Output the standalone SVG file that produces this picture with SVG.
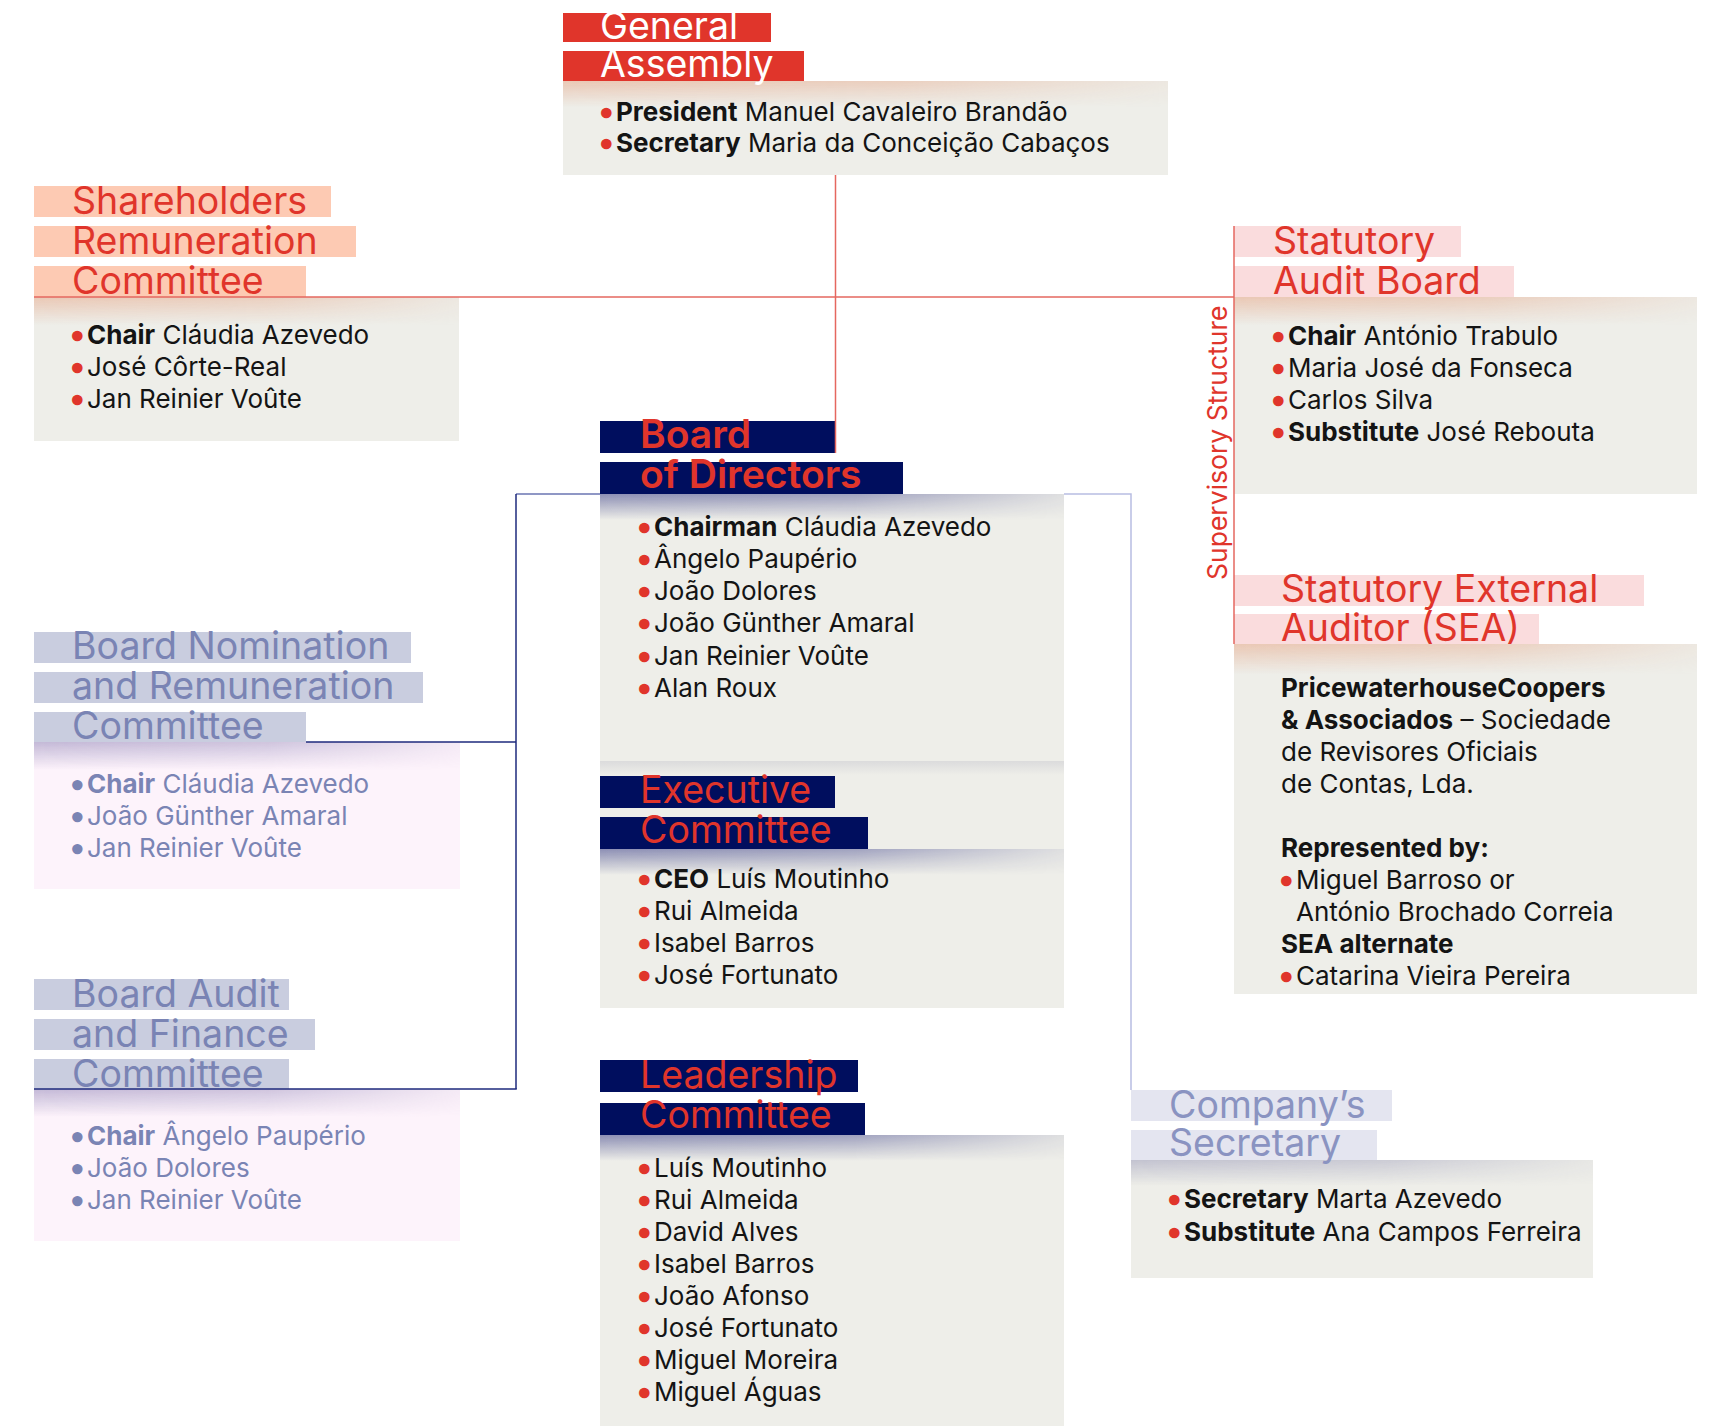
<svg xmlns="http://www.w3.org/2000/svg" width="1711" height="1426" viewBox="0 0 1711 1426">
<defs>
  <linearGradient id="gPeach" x1="0" y1="0" x2="0" y2="1">
    <stop offset="0" stop-color="#E7AE92" stop-opacity="0.6"/>
    <stop offset="1" stop-color="#E7AE92" stop-opacity="0"/>
  </linearGradient>
  <linearGradient id="gNavy" x1="0" y1="0" x2="0" y2="1">
    <stop offset="0" stop-color="#2B3080" stop-opacity="0.5"/>
    <stop offset="1" stop-color="#2B3080" stop-opacity="0"/>
  </linearGradient>
  <linearGradient id="gPurple" x1="0" y1="0" x2="0" y2="1">
    <stop offset="0" stop-color="#8A7FB3" stop-opacity="0.5"/>
    <stop offset="1" stop-color="#8A7FB3" stop-opacity="0"/>
  </linearGradient>
  <linearGradient id="gGreyL" x1="0" y1="0" x2="0" y2="1">
    <stop offset="0" stop-color="#8E8FB2" stop-opacity="0.45"/>
    <stop offset="1" stop-color="#8E8FB2" stop-opacity="0"/>
  </linearGradient>
  <linearGradient id="gSoft" x1="0" y1="0" x2="0" y2="1">
    <stop offset="0" stop-color="#B8B8C4" stop-opacity="0.35"/>
    <stop offset="1" stop-color="#B8B8C4" stop-opacity="0"/>
  </linearGradient>
  <linearGradient id="hFade" x1="0" y1="0" x2="1" y2="0">
    <stop offset="0" stop-color="#fff"/>
    <stop offset="0.55" stop-color="#fff" stop-opacity="0.8"/>
    <stop offset="1" stop-color="#fff" stop-opacity="0.15"/>
  </linearGradient>
  <mask id="mFade" maskContentUnits="objectBoundingBox">
    <rect width="1" height="1" fill="url(#hFade)"/>
  </mask>
</defs>
<style>
  .box{fill:#EEEEE9}
  .pbox{fill:#FDF3FB}
  .red{fill:#E0352B}
  .salmon{fill:#FDCAB3}
  .pink{fill:#FADCDD}
  .navy{fill:#000E5E}
  .lav{fill:#C9CDDF}
  .lav2{fill:#E4E5F0}
  .t{font-family:Inter,"Liberation Sans",sans-serif;font-size:37.5px}
  .tw{fill:#FFFFFF}
  .tr{fill:#E0352B}
  .tl{fill:#7A84B4}
  .tl2{fill:#8A93C1}
  .tb{font-weight:600;font-size:39px}
  .b{font-family:Inter,"Liberation Sans",sans-serif;font-size:26px;fill:#141414}
  .bl{font-family:Inter,"Liberation Sans",sans-serif;font-size:26px;fill:#7A84B4}
  .k{font-weight:700}
  .d{fill:#E0352B;stroke:#E0352B;stroke-width:2.4px}
  .dl{fill:#7A84B4;stroke:#7A84B4;stroke-width:2.2px}
  .sup{font-family:Inter,"Liberation Sans",sans-serif;font-size:26.5px;fill:#E0352B}
  .cr{stroke:#E5675F;stroke-width:1.5;fill:none}
  .cn{stroke:#1E2A7C;stroke-width:1.5;fill:none}
  .cn2{stroke:#6A74B2;stroke-width:1.5;fill:none}
  .cl{stroke:#B8BDE2;stroke-width:1.5;fill:none}
</style>

<g id="general-assembly">
  <rect class="box" x="563" y="81" width="605" height="94"/>
  <rect x="563" y="81" width="605" height="26" fill="url(#gPeach)" mask="url(#mFade)"/>
  <rect class="red" x="563" y="13" width="208" height="29"/>
  <rect class="red" x="563" y="51" width="241" height="30"/>
  <text class="t tw" x="600" y="39">General</text>
  <text class="t tw" x="600" y="77">Assembly</text>
  <text class="b" x="599" y="121"><tspan class="d">•</tspan><tspan x="616" class="k">President</tspan> Manuel Cavaleiro Brandão</text>
  <text class="b" x="599" y="152"><tspan class="d">•</tspan><tspan x="616" class="k">Secretary</tspan> Maria da Conceição Cabaços</text>
</g>

<g id="shareholders-remuneration-committee">
  <rect class="box" x="34" y="297" width="425" height="144"/>
  <rect x="34" y="297" width="425" height="28" fill="url(#gPeach)" mask="url(#mFade)"/>
  <rect class="salmon" x="34" y="186" width="297" height="31"/>
  <rect class="salmon" x="34" y="226" width="322" height="31"/>
  <rect class="salmon" x="34" y="266" width="272" height="31"/>
  <text class="t tr" x="72" y="214">Shareholders</text>
  <text class="t tr" x="72" y="254">Remuneration</text>
  <text class="t tr" x="72" y="294">Committee</text>
  <text class="b" x="70" y="344"><tspan class="d">•</tspan><tspan x="87" class="k">Chair</tspan> Cláudia Azevedo</text>
  <text class="b" x="70" y="376"><tspan class="d">•</tspan><tspan x="87">José Côrte-Real</tspan></text>
  <text class="b" x="70" y="408"><tspan class="d">•</tspan><tspan x="87">Jan Reinier Voûte</tspan></text>
</g>

<g id="statutory-audit-board">
  <rect class="box" x="1234" y="297" width="463" height="197"/>
  <rect x="1234" y="297" width="463" height="28" fill="url(#gPeach)" mask="url(#mFade)"/>
  <rect class="pink" x="1234" y="226" width="227" height="31"/>
  <rect class="pink" x="1234" y="266" width="280" height="31"/>
  <text class="t tr" x="1273" y="254">Statutory</text>
  <text class="t tr" x="1273" y="294">Audit Board</text>
  <text class="b" x="1271" y="345"><tspan class="d">•</tspan><tspan x="1288" class="k">Chair</tspan> António Trabulo</text>
  <text class="b" x="1271" y="377"><tspan class="d">•</tspan><tspan x="1288">Maria José da Fonseca</tspan></text>
  <text class="b" x="1271" y="409"><tspan class="d">•</tspan><tspan x="1288">Carlos Silva</tspan></text>
  <text class="b" x="1271" y="441"><tspan class="d">•</tspan><tspan x="1288" class="k">Substitute</tspan> José Rebouta</text>
</g>

<g id="supervisory-structure-label">
  <text class="sup" transform="translate(1227,580) rotate(-90)">Supervisory Structure</text>
</g>

<g id="statutory-external-auditor">
  <rect class="box" x="1234" y="644" width="463" height="350"/>
  <rect x="1234" y="644" width="463" height="30" fill="url(#gPeach)" mask="url(#mFade)"/>
  <rect class="pink" x="1234" y="575" width="410" height="31"/>
  <rect class="pink" x="1234" y="614" width="305" height="30"/>
  <text class="t tr" x="1281" y="602">Statutory External</text>
  <text class="t tr" x="1281" y="641">Auditor (SEA)</text>
  <text class="b k" x="1281" y="697">PricewaterhouseCoopers</text>
  <text class="b" x="1281" y="729"><tspan class="k">&amp; Associados</tspan> – Sociedade</text>
  <text class="b" x="1281" y="761">de Revisores Oficiais</text>
  <text class="b" x="1281" y="793">de Contas, Lda.</text>
  <text class="b k" x="1281" y="857">Represented by:</text>
  <text class="b" x="1279" y="889"><tspan class="d">•</tspan><tspan x="1296">Miguel Barroso or</tspan></text>
  <text class="b" x="1296" y="921">António Brochado Correia</text>
  <text class="b k" x="1281" y="953">SEA alternate</text>
  <text class="b" x="1279" y="985"><tspan class="d">•</tspan><tspan x="1296">Catarina Vieira Pereira</tspan></text>
</g>

<g id="board-of-directors">
  <rect class="box" x="600" y="494" width="464" height="267"/>
  <rect x="600" y="494" width="464" height="26" fill="url(#gNavy)" mask="url(#mFade)"/>
  <rect class="navy" x="600" y="421" width="235" height="32"/>
  <rect class="navy" x="600" y="462" width="303" height="32"/>
  <text class="t tr tb" x="640" y="448">Board</text>
  <text class="t tr tb" x="640" y="488">of Directors</text>
  <text class="b" x="637" y="536"><tspan class="d">•</tspan><tspan x="654" class="k">Chairman</tspan> Cláudia Azevedo</text>
  <text class="b" x="637" y="568"><tspan class="d">•</tspan><tspan x="654">Ângelo Paupério</tspan></text>
  <text class="b" x="637" y="600"><tspan class="d">•</tspan><tspan x="654">João Dolores</tspan></text>
  <text class="b" x="637" y="632"><tspan class="d">•</tspan><tspan x="654">João Günther Amaral</tspan></text>
  <text class="b" x="637" y="665"><tspan class="d">•</tspan><tspan x="654">Jan Reinier Voûte</tspan></text>
  <text class="b" x="637" y="697"><tspan class="d">•</tspan><tspan x="654">Alan Roux</tspan></text>
</g>

<g id="executive-committee">
  <rect class="box" x="600" y="761" width="464" height="247"/>
  <rect x="600" y="761" width="464" height="14" fill="url(#gSoft)"/>
  <rect x="600" y="849" width="464" height="26" fill="url(#gNavy)" mask="url(#mFade)"/>
  <rect class="navy" x="600" y="776" width="235" height="32"/>
  <rect class="navy" x="600" y="817" width="268" height="32"/>
  <text class="t tr" x="640" y="803">Executive</text>
  <text class="t tr" x="640" y="843">Committee</text>
  <text class="b" x="637" y="888"><tspan class="d">•</tspan><tspan x="654" class="k">CEO</tspan> Luís Moutinho</text>
  <text class="b" x="637" y="920"><tspan class="d">•</tspan><tspan x="654">Rui Almeida</tspan></text>
  <text class="b" x="637" y="952"><tspan class="d">•</tspan><tspan x="654">Isabel Barros</tspan></text>
  <text class="b" x="637" y="984"><tspan class="d">•</tspan><tspan x="654">José Fortunato</tspan></text>
</g>

<g id="leadership-committee">
  <rect class="box" x="600" y="1135" width="464" height="291"/>
  <rect x="600" y="1135" width="464" height="26" fill="url(#gNavy)" mask="url(#mFade)"/>
  <rect class="navy" x="600" y="1060" width="258" height="32"/>
  <rect class="navy" x="600" y="1103" width="265" height="32"/>
  <text class="t tr" x="640" y="1088">Leadership</text>
  <text class="t tr" x="640" y="1128">Committee</text>
  <text class="b" x="637" y="1177"><tspan class="d">•</tspan><tspan x="654">Luís Moutinho</tspan></text>
  <text class="b" x="637" y="1209"><tspan class="d">•</tspan><tspan x="654">Rui Almeida</tspan></text>
  <text class="b" x="637" y="1241"><tspan class="d">•</tspan><tspan x="654">David Alves</tspan></text>
  <text class="b" x="637" y="1273"><tspan class="d">•</tspan><tspan x="654">Isabel Barros</tspan></text>
  <text class="b" x="637" y="1305"><tspan class="d">•</tspan><tspan x="654">João Afonso</tspan></text>
  <text class="b" x="637" y="1337"><tspan class="d">•</tspan><tspan x="654">José Fortunato</tspan></text>
  <text class="b" x="637" y="1369"><tspan class="d">•</tspan><tspan x="654">Miguel Moreira</tspan></text>
  <text class="b" x="637" y="1401"><tspan class="d">•</tspan><tspan x="654">Miguel Águas</tspan></text>
</g>

<g id="board-nomination-remuneration-committee">
  <rect class="pbox" x="34" y="742" width="426" height="147"/>
  <rect x="34" y="742" width="426" height="28" fill="url(#gPurple)" mask="url(#mFade)"/>
  <rect class="lav" x="34" y="632" width="377" height="31"/>
  <rect class="lav" x="34" y="672" width="389" height="31"/>
  <rect class="lav" x="34" y="712" width="272" height="30"/>
  <text class="t tl" x="72" y="659">Board Nomination</text>
  <text class="t tl" x="72" y="699">and Remuneration</text>
  <text class="t tl" x="72" y="739">Committee</text>
  <text class="bl" x="70" y="793"><tspan class="dl">•</tspan><tspan x="87" class="k">Chair</tspan> Cláudia Azevedo</text>
  <text class="bl" x="70" y="825"><tspan class="dl">•</tspan><tspan x="87">João Günther Amaral</tspan></text>
  <text class="bl" x="70" y="857"><tspan class="dl">•</tspan><tspan x="87">Jan Reinier Voûte</tspan></text>
</g>

<g id="board-audit-finance-committee">
  <rect class="pbox" x="34" y="1089" width="426" height="152"/>
  <rect x="34" y="1089" width="426" height="28" fill="url(#gPurple)" mask="url(#mFade)"/>
  <rect class="lav" x="34" y="979" width="255" height="31"/>
  <rect class="lav" x="34" y="1019" width="281" height="31"/>
  <rect class="lav" x="34" y="1059" width="255" height="30"/>
  <text class="t tl" x="72" y="1007">Board Audit</text>
  <text class="t tl" x="72" y="1047">and Finance</text>
  <text class="t tl" x="72" y="1087">Committee</text>
  <text class="bl" x="70" y="1145"><tspan class="dl">•</tspan><tspan x="87" class="k">Chair</tspan> Ângelo Paupério</text>
  <text class="bl" x="70" y="1177"><tspan class="dl">•</tspan><tspan x="87">João Dolores</tspan></text>
  <text class="bl" x="70" y="1209"><tspan class="dl">•</tspan><tspan x="87">Jan Reinier Voûte</tspan></text>
</g>

<g id="company-secretary">
  <rect class="box" x="1131" y="1160" width="462" height="118"/>
  <rect x="1131" y="1160" width="462" height="26" fill="url(#gGreyL)" mask="url(#mFade)"/>
  <rect class="lav2" x="1131" y="1090" width="261" height="31"/>
  <rect class="lav2" x="1131" y="1130" width="246" height="30"/>
  <text class="t tl2" x="1169" y="1118">Company’s</text>
  <text class="t tl2" x="1169" y="1156">Secretary</text>
  <text class="b" x="1167" y="1208"><tspan class="d">•</tspan><tspan x="1184" class="k">Secretary</tspan> Marta Azevedo</text>
  <text class="b" x="1167" y="1241"><tspan class="d">•</tspan><tspan x="1184" class="k">Substitute</tspan> Ana Campos Ferreira</text>
</g>

<g id="connectors">
  <line class="cr" x1="835.5" y1="175" x2="835.5" y2="453"/>
  <line class="cr" x1="34" y1="297" x2="1234" y2="297"/>
  <line class="cr" x1="1234" y1="226" x2="1234" y2="644"/>
  <line class="cn2" x1="516" y1="494" x2="600" y2="494"/>
  <line class="cn" x1="516" y1="494" x2="516" y2="1089"/>
  <line class="cn" x1="306" y1="742" x2="516" y2="742"/>
  <line class="cn" x1="34" y1="1089" x2="516.75" y2="1089"/>
  <polyline class="cl" points="1064,494 1131,494 1131,1090"/>
</g>
</svg>
